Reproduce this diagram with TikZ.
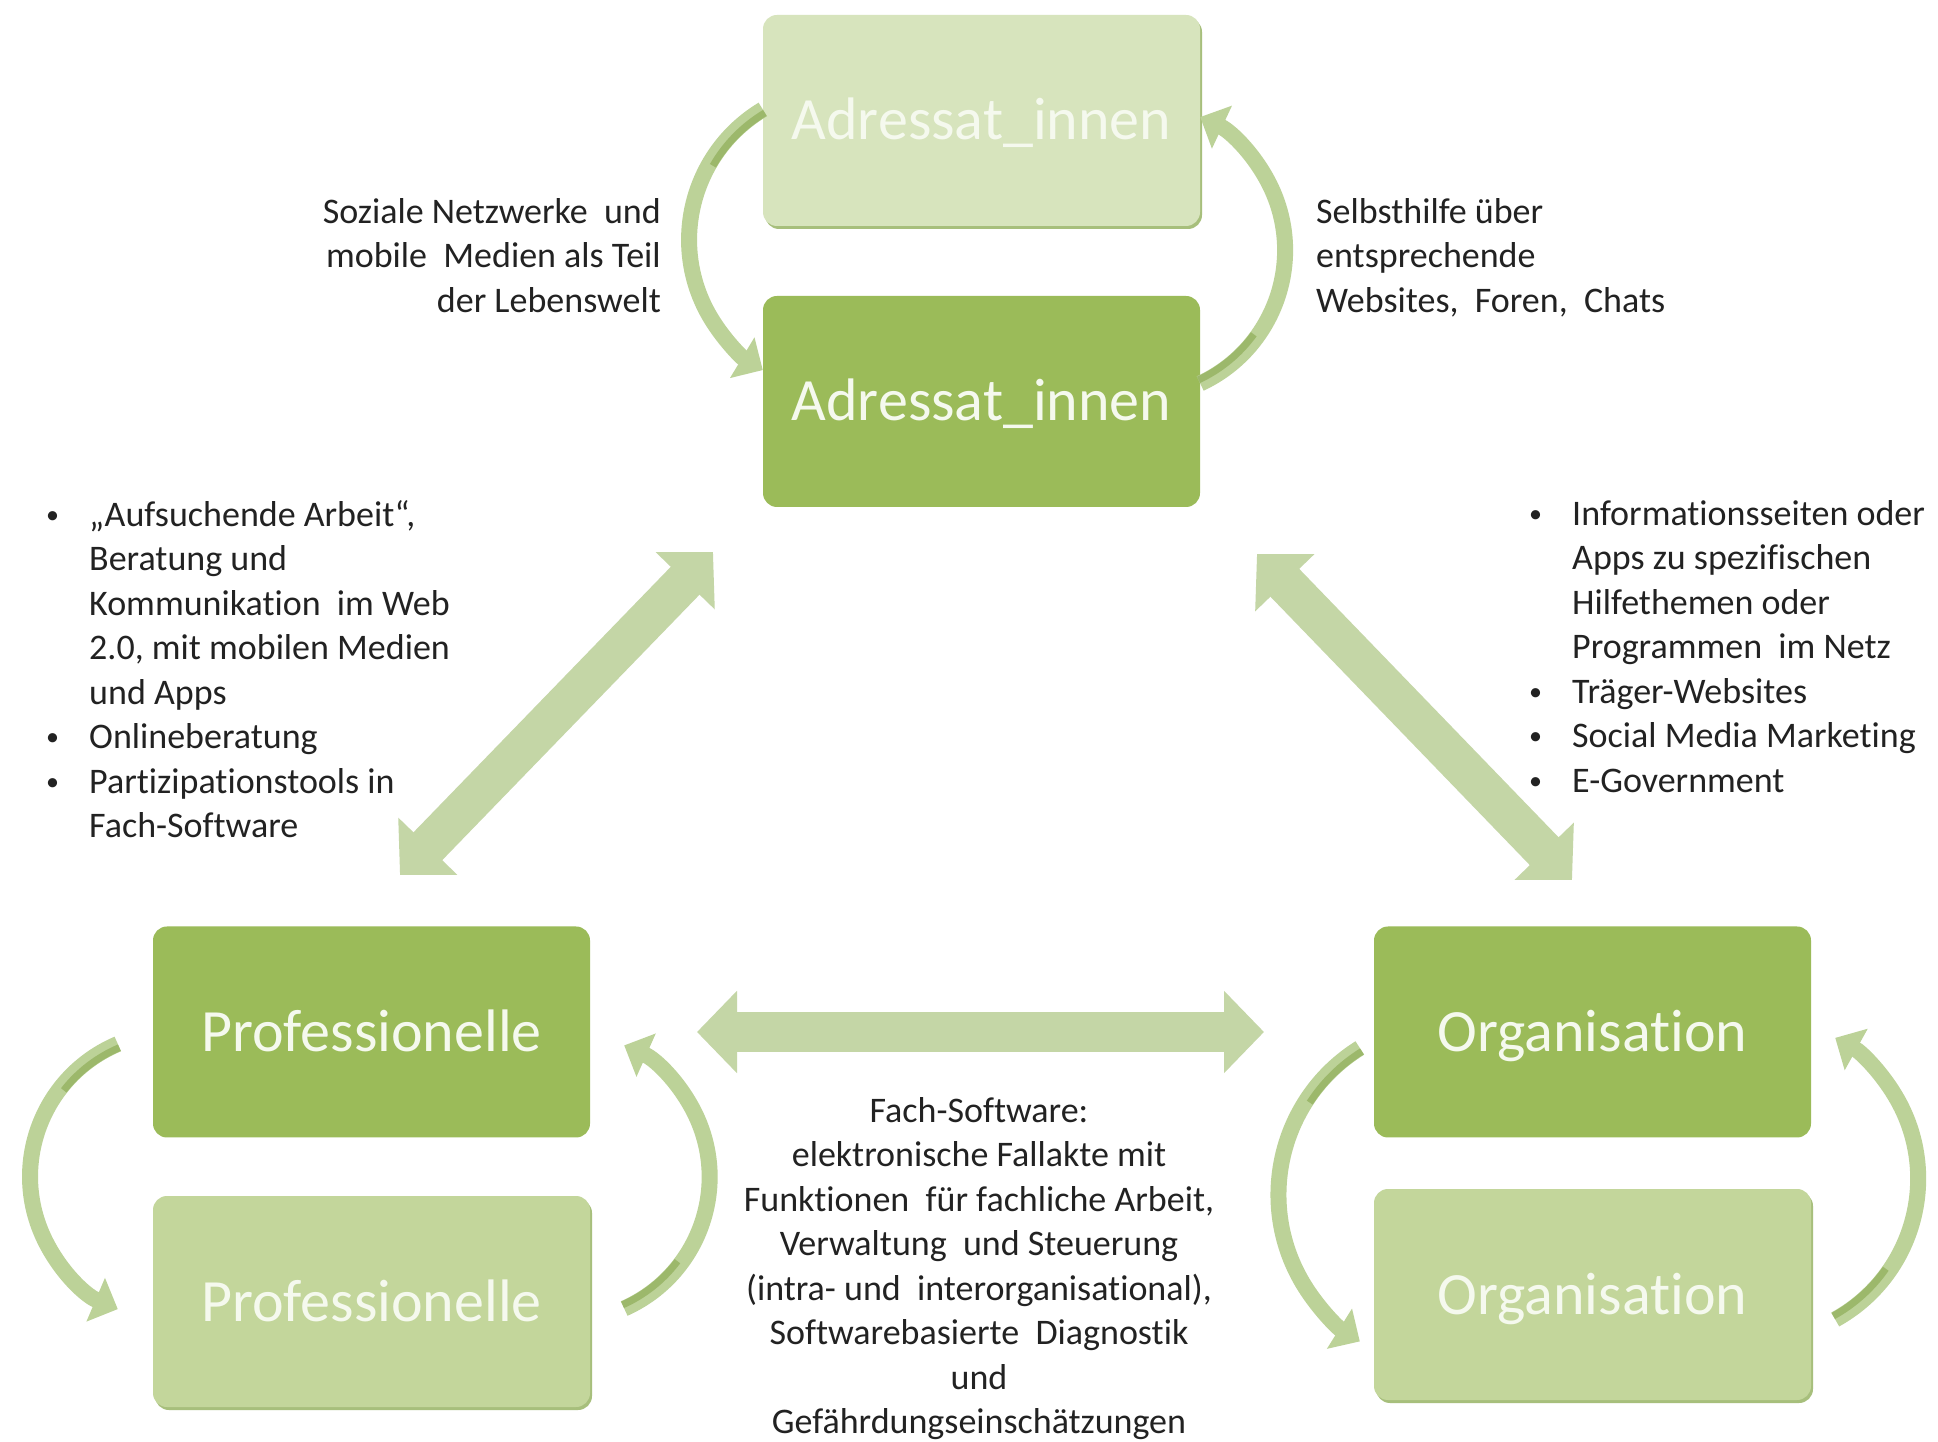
\documentclass[tikz,border=0pt]{standalone}
\usepackage{fontspec}
\setmainfont{Carlito}[Ligatures=NoCommon]
\usetikzlibrary{arrows.meta}
\definecolor{boxdark}{HTML}{9BBB59}
\definecolor{boxlight}{HTML}{C3D69B}
\definecolor{boxpale}{HTML}{D7E4BD}
\definecolor{boxshadow}{HTML}{A7BF7C}
\definecolor{bigarrow}{HTML}{C4D6A6}
\definecolor{curvec}{HTML}{BCD298}
\definecolor{curvedark}{HTML}{9CB86B}
\definecolor{txt}{HTML}{222222}
\definecolor{boxtxt}{HTML}{F5F9EE}
\newcommand\mybul{\makebox[46pt][l]{\hspace*{3pt}\raisebox{3pt}{\fontsize{26}{26}\selectfont •}}}
\newcommand\myind{\hspace*{46pt}}
\begin{document}
\begin{tikzpicture}[x=1pt,y=1pt,
  box/.style={rectangle, rounded corners=14pt, minimum width=437pt, minimum height=211pt,
    inner sep=0pt, text=boxtxt, font=\fontsize{60}{72}\selectfont, text height=39pt, text depth=0pt},
  dark/.style={box, fill=boxdark},
  light/.style={box, fill=boxlight, preaction={fill=boxshadow, transform canvas={shift={(2pt,-3pt)}}}},
  pale/.style={box, fill=boxpale, preaction={fill=boxshadow, transform canvas={shift={(2pt,-3pt)}}}},
  lbl/.style={inner sep=0pt, text=txt, font=\fontsize{36}{44.5}\selectfont},
  bigarr/.style={line width=40pt, draw=bigarrow, {Triangle[width=80pt,length=40pt]}-{Triangle[width=80pt,length=40pt]}},
  carrow/.style={line width=16pt, draw=curvec, -{Triangle[width=46pt,length=24pt]}},
  cshade/.style={line width=7pt, draw=curvedark}
]
\useasboundingbox (0,0) rectangle (1938,1441);
\fill[white] (0,0) rectangle (1938,1441);

% boxes
\node[pale]  (adrT)  at (981.5,1320.5) {Adressat\_innen};
\node[dark]  (adrD)  at (981.5,1039.5) {Adressat\_innen};
\node[dark]  (profD) at (371.5,409)    {Professionelle};
\node[light] (profL) at (371.5,139.5)  {Professionelle};
\node[dark]  (orgD)  at (1592.5,409)   {Organisation};
\node[light] (orgL)  at (1592.5,146.5) {Organisation};

% curved arrows
\draw[carrow] ([yshift=11]adrT.west) arc[start angle=121, end angle=239, radius=152];
\draw[cshade] ([yshift=11]adrT.west) ++(301:4) arc[start angle=121, end angle=150, radius=148];
\draw[carrow] ([yshift=18]adrD.east) arc[start angle=-65, end angle=65, radius=147];
\draw[cshade] ([yshift=18]adrD.east) ++(115:4) arc[start angle=-65, end angle=-36, radius=143];

\draw[carrow] ([xshift=-35,yshift=-12]profD.west) arc[start angle=113, end angle=247, radius=144];
\draw[cshade] ([xshift=-35,yshift=-12]profD.west) ++(293:4) arc[start angle=113, end angle=142, radius=140];
\draw[carrow] ([xshift=34,yshift=-7]profL.east) arc[start angle=-66, end angle=66, radius=144];
\draw[cshade] ([xshift=34,yshift=-7]profL.east) ++(114:4) arc[start angle=-66, end angle=-37, radius=140];

\draw[carrow] ([xshift=-14,yshift=-16]orgD.west) arc[start angle=122, end angle=238, radius=173];
\draw[cshade] ([xshift=-14,yshift=-16]orgD.west) ++(302:4) arc[start angle=122, end angle=147, radius=169];
\draw[carrow] ([xshift=24,yshift=-25]orgL.east) arc[start angle=-61, end angle=61, radius=161];
\draw[cshade] ([xshift=24,yshift=-25]orgL.east) ++(119:4) arc[start angle=-61, end angle=-35, radius=157];

% big double arrows
\coordinate (dl1) at (713,889);
\coordinate (dl2) at (400,566);
\coordinate (dr1) at (1257,887);
\coordinate (dr2) at (1572,561);
\coordinate (h1) at (697,409);
\coordinate (h2) at (1264,409);
\draw[bigarr] (dl1) -- (dl2);
\draw[bigarr] (dr1) -- (dr2);
\draw[bigarr] (h1) -- (h2);

% labels
\node[lbl, anchor=north east, align=right] (soz) at (661,1243)
  {Soziale Netzwerke\ \ und\\mobile\ \ Medien als Teil\\der Lebenswelt};
\node[lbl, anchor=north west, align=left] (selbst) at (1316,1243)
  {Selbsthilfe über\\entsprechende\\Websites,\ \ Foren,\ \ Chats};
\node[lbl, anchor=north west, align=left] (listL) at (43,941)
  {\mybul„Aufsuchende Arbeit“,\\\myind Beratung und\\\myind Kommunikation\ \ im Web\\\myind 2.0, mit mobilen Medien\\\myind und Apps\\\mybul Onlineberatung\\\mybul Partizipationstools in\\\myind Fach-Software};
\node[lbl, anchor=north west, align=left] (listR) at (1526,941)
  {\mybul Informationsseiten oder\\\myind Apps zu spezifischen\\\myind Hilfethemen oder\\\myind Programmen\ \ im Netz\\\mybul Träger-Websites\\\mybul Social Media Marketing\\\mybul E-Government};
\node[lbl, anchor=north, align=center] (fach) at (979,344)
  {Fach-Software:\\elektronische Fallakte mit\\Funktionen\ \ für fachliche Arbeit,\\Verwaltung\ \ und Steuerung\\(intra- und\ \ interorganisational),\\Softwarebasierte\ \ Diagnostik\\und\\Gefährdungseinschätzungen};
\end{tikzpicture}
\end{document}
